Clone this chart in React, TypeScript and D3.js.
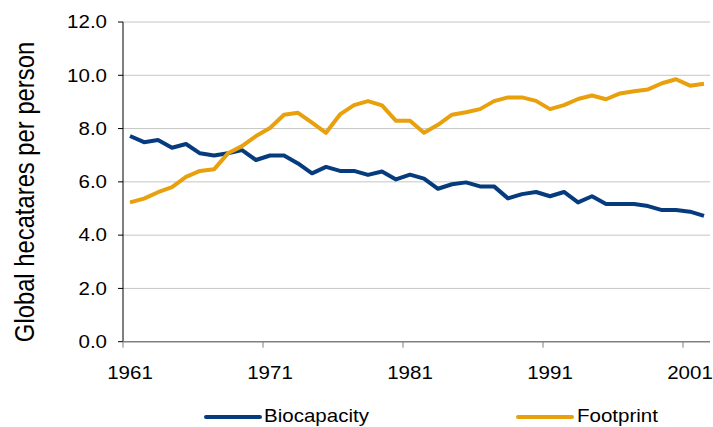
import React from "react";
import * as d3 from "d3";

const years: number[] = [
  1961, 1962, 1963, 1964, 1965, 1966, 1967, 1968, 1969, 1970,
  1971, 1972, 1973, 1974, 1975, 1976, 1977, 1978, 1979, 1980,
  1981, 1982, 1983, 1984, 1985, 1986, 1987, 1988, 1989, 1990,
  1991, 1992, 1993, 1994, 1995, 1996, 1997, 1998, 1999, 2000,
  2001, 2002,
];
const biocapacity: number[] = [
  7.72, 7.49, 7.57, 7.28, 7.42, 7.07, 6.99, 7.07, 7.19, 6.82,
  6.99, 6.99, 6.69, 6.32, 6.56, 6.41, 6.41, 6.26, 6.39, 6.09,
  6.27, 6.12, 5.74, 5.91, 5.98, 5.83, 5.83, 5.38, 5.54, 5.62,
  5.46, 5.62, 5.23, 5.46, 5.17, 5.17, 5.17, 5.09, 4.94, 4.94,
  4.88, 4.72,
];
const footprint: number[] = [
  5.23, 5.37, 5.61, 5.80, 6.19, 6.41, 6.47, 7.07, 7.34, 7.72,
  8.02, 8.52, 8.59, 8.22, 7.84, 8.53, 8.88, 9.03, 8.87, 8.29,
  8.29, 7.84, 8.14, 8.52, 8.61, 8.73, 9.03, 9.17, 9.17, 9.04,
  8.73, 8.88, 9.11, 9.24, 9.10, 9.32, 9.40, 9.47, 9.70, 9.85,
  9.61, 9.68,
];
const yTicks: number[] = [0, 2, 4, 6, 8, 10, 12];
const xLabelYears: number[] = [1961, 1971, 1981, 1991, 2001];
const seriesNames: string[] = ["Biocapacity", "Footprint"];
const seriesColors: string[] = ["#063c7d", "#e8a00c"];

export default function App() {
  const W = 713, H = 427;
  const left = 123, right = 711, top = 22, bottom = 341.7;
  const x = d3.scaleBand<number>().domain(years).range([left, right]).paddingInner(0).paddingOuter(0);
  const y = d3.scaleLinear().domain([0, 12]).range([bottom, top]);
  const cx = (yr: number) => (x(yr) as number) + x.bandwidth() / 2;
  const line = d3.line<number>().x((_, i) => cx(years[i])).y((v) => y(v));
  const font = "'Liberation Sans', Arial, sans-serif";
  const tickYears = years.filter((_, i) => i % 10 === 0);
  const sx = 1.14;
  const fs = 18;
  return (
    <svg width={W} height={H} style={{ position: "absolute", left: 0, top: 0 }}>
      <rect x={0} y={0} width={W} height={H} fill="#fff" />
      {yTicks.filter((t) => t > 0).map((t) => (
        <line key={"g" + t} x1={left} x2={right - 1} y1={y(t)} y2={y(t)} stroke="#c6c6c6" strokeWidth={1} />
      ))}
      {/* y axis */}
      <line x1={left} x2={left} y1={top} y2={bottom} stroke="#000" strokeWidth={1} />
      {yTicks.map((t) => (
        <g key={"yt" + t}>
          <line x1={left - 5} x2={left} y1={y(t)} y2={y(t)} stroke="#000" strokeWidth={1} />
          <g transform={`translate(${left - 16}, ${y(t)}) scale(${sx},1)`}>
            <text x={0} y={0} dy="0.35em" textAnchor="end" fontFamily={font} fontSize={fs} fill="#000">
              {t.toFixed(1)}
            </text>
          </g>
        </g>
      ))}
      {/* x axis */}
      <line x1={left} x2={right - 1} y1={bottom} y2={bottom} stroke="#808080" strokeWidth={1.5} />
      {tickYears.map((yr) => (
        <line key={"xt" + yr} x1={x(yr) as number} x2={x(yr) as number} y1={bottom} y2={bottom + 6} stroke="#808080" strokeWidth={1} />
      ))}
      {xLabelYears.map((yr) => (
        <g key={"xl" + yr} transform={`translate(${cx(yr)}, 372.7) scale(${sx},1)`}>
          <text x={0} y={0} dy="0.35em" textAnchor="middle" fontFamily={font} fontSize={fs} fill="#000">
            {yr}
          </text>
        </g>
      ))}
      <g transform={`translate(24, 192) scale(${sx},1) rotate(-90)`}>
        <text x={0} y={0} textAnchor="middle" dy="0.35em" fontFamily={font} fontSize={23.8} fill="#000">
          Global hecatares per person
        </text>
      </g>
      <path d={line(biocapacity) || ""} fill="none" stroke={seriesColors[0]} strokeWidth={4} strokeLinejoin="round" />
      <path d={line(footprint) || ""} fill="none" stroke={seriesColors[1]} strokeWidth={4} strokeLinejoin="round" />
      {/* legend */}
      {[
        { x0: 206, x1: 260, tx: 264 },
        { x0: 518, x1: 572, tx: 577 },
      ].map((p, i) => (
        <g key={"lg" + i}>
          <line x1={p.x0} x2={p.x1} y1={417} y2={417} stroke={seriesColors[i]} strokeWidth={4} strokeLinecap="round" />
          <g transform={`translate(${p.tx}, 416) scale(${sx},1)`}>
            <text x={0} y={0} dy="0.35em" fontFamily={font} fontSize={fs} fill="#000">
              {seriesNames[i]}
            </text>
          </g>
        </g>
      ))}
    </svg>
  );
}
